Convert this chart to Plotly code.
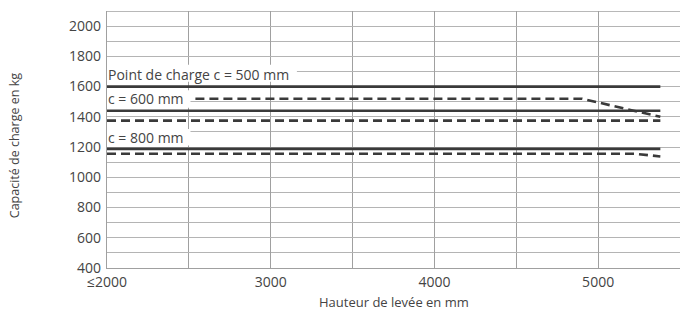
import plotly.graph_objects as go

# Data
x_tick_vals = [2000, 3000, 4000, 5000]
x_tick_text = ["≤2000", "3000", "4000", "5000"]
y_tick_vals = [400, 600, 800, 1000, 1200, 1400, 1600, 1800, 2000]

c500_solid_x = [2000, 5380]
c500_solid_y = [1600, 1600]
c500_dash_x = [2540, 4900, 5380]
c500_dash_y = [1520, 1520, 1400]

c600_solid_x = [2000, 5380]
c600_solid_y = [1440, 1440]
c600_dash_x = [2000, 5380]
c600_dash_y = [1375, 1375]

c800_solid_x = [2000, 5380]
c800_solid_y = [1188, 1188]
c800_dash_x = [2000, 5220, 5380]
c800_dash_y = [1156, 1156, 1138]

labels = ["Point de charge c = 500 mm", "c = 600 mm", "c = 800 mm"]
label_y = [1683, 1521, 1263]

x_title = "Hauteur de levée en mm"
y_title = "Capacité de charge en kg"

line_col = "#3a3a3a"
text_col = "#444444"
font_fam = "Open Sans, Liberation Sans, sans-serif"

fig = go.Figure()

def add(x, y, dashed):
    fig.add_trace(go.Scatter(
        x=x, y=y, mode="lines", showlegend=False, hoverinfo="skip",
        line=dict(color=line_col, width=2.6, dash="9px,5px" if dashed else "solid"),
    ))

add(c500_solid_x, c500_solid_y, False)
add(c500_dash_x, c500_dash_y, True)
add(c600_solid_x, c600_solid_y, False)
add(c600_dash_x, c600_dash_y, True)
add(c800_solid_x, c800_solid_y, False)
add(c800_dash_x, c800_dash_y, True)

# white label boxes covering grid lines (between grid and traces)
boxes = [(2000, 3160, 1632, 1745), (2000, 2510, 1460, 1575), (2000, 2510, 1210, 1320)]
for x0, x1, y0, y1 in boxes:
    fig.add_shape(type="rect", x0=x0, x1=x1, y0=y0, y1=y1, xref="x", yref="y",
                  fillcolor="white", line=dict(width=0), layer="between")

for t, yv in zip(labels, label_y):
    fig.add_annotation(x=2000, y=yv, text=t, showarrow=False, xanchor="left",
                       yanchor="middle", xshift=-1,
                       font=dict(family=font_fam, size=14, color=text_col))

# axis titles (paper coords: plot area is 107..680 px wide, 11..268 px high)
fig.add_annotation(x=0.5, y=-0.1323, xref="paper", yref="paper", text=x_title,
                   showarrow=False, xanchor="center", yanchor="middle",
                   font=dict(family=font_fam, size=13, color=text_col))
fig.add_annotation(x=-0.16, y=0.475, xref="paper", yref="paper", text=y_title,
                   showarrow=False, textangle=-90,
                   xanchor="center", yanchor="middle",
                   font=dict(family=font_fam, size=12.5, color=text_col))

fig.update_layout(
    width=680, height=311,
    margin=dict(l=107, r=0, t=11, b=43),
    paper_bgcolor="white", plot_bgcolor="white",
    font=dict(family=font_fam, size=14, color=text_col),
    xaxis=dict(
        range=[2000, 5500], tickvals=x_tick_vals, ticktext=x_tick_text,
        automargin=False,
        showgrid=True, gridcolor="#a0a0a0", gridwidth=1.3,
        minor=dict(dtick=500, tick0=2000, showgrid=True, gridcolor="#a0a0a0", gridwidth=1.3),
        showline=True, linecolor="#a0a0a0", linewidth=1.3,
        zeroline=False, ticks="", ticklabelstandoff=1,
        tickfont=dict(family=font_fam, size=14, color=text_col),
    ),
    yaxis=dict(
        range=[400, 2100], tickvals=y_tick_vals,
        automargin=False,
        showgrid=True, gridcolor="#b4b4b4", gridwidth=1.3,
        minor=dict(dtick=100, tick0=400, showgrid=True, gridcolor="#b4b4b4", gridwidth=1.3),
        showline=True, linecolor="#a0a0a0", linewidth=1.3,
        zeroline=False, ticks="", ticklabelstandoff=2,
        tickfont=dict(family=font_fam, size=14, color=text_col),
    ),
)

# top border line at 2100
fig.add_shape(type="line", x0=2000, x1=5500, y0=2100, y1=2100, xref="x", yref="y",
              line=dict(color="#a0a0a0", width=1.3), layer="below")

fig.write_html("out.html", config={"displayModeBar": False},
               post_script="document.body.style.margin='0';")
